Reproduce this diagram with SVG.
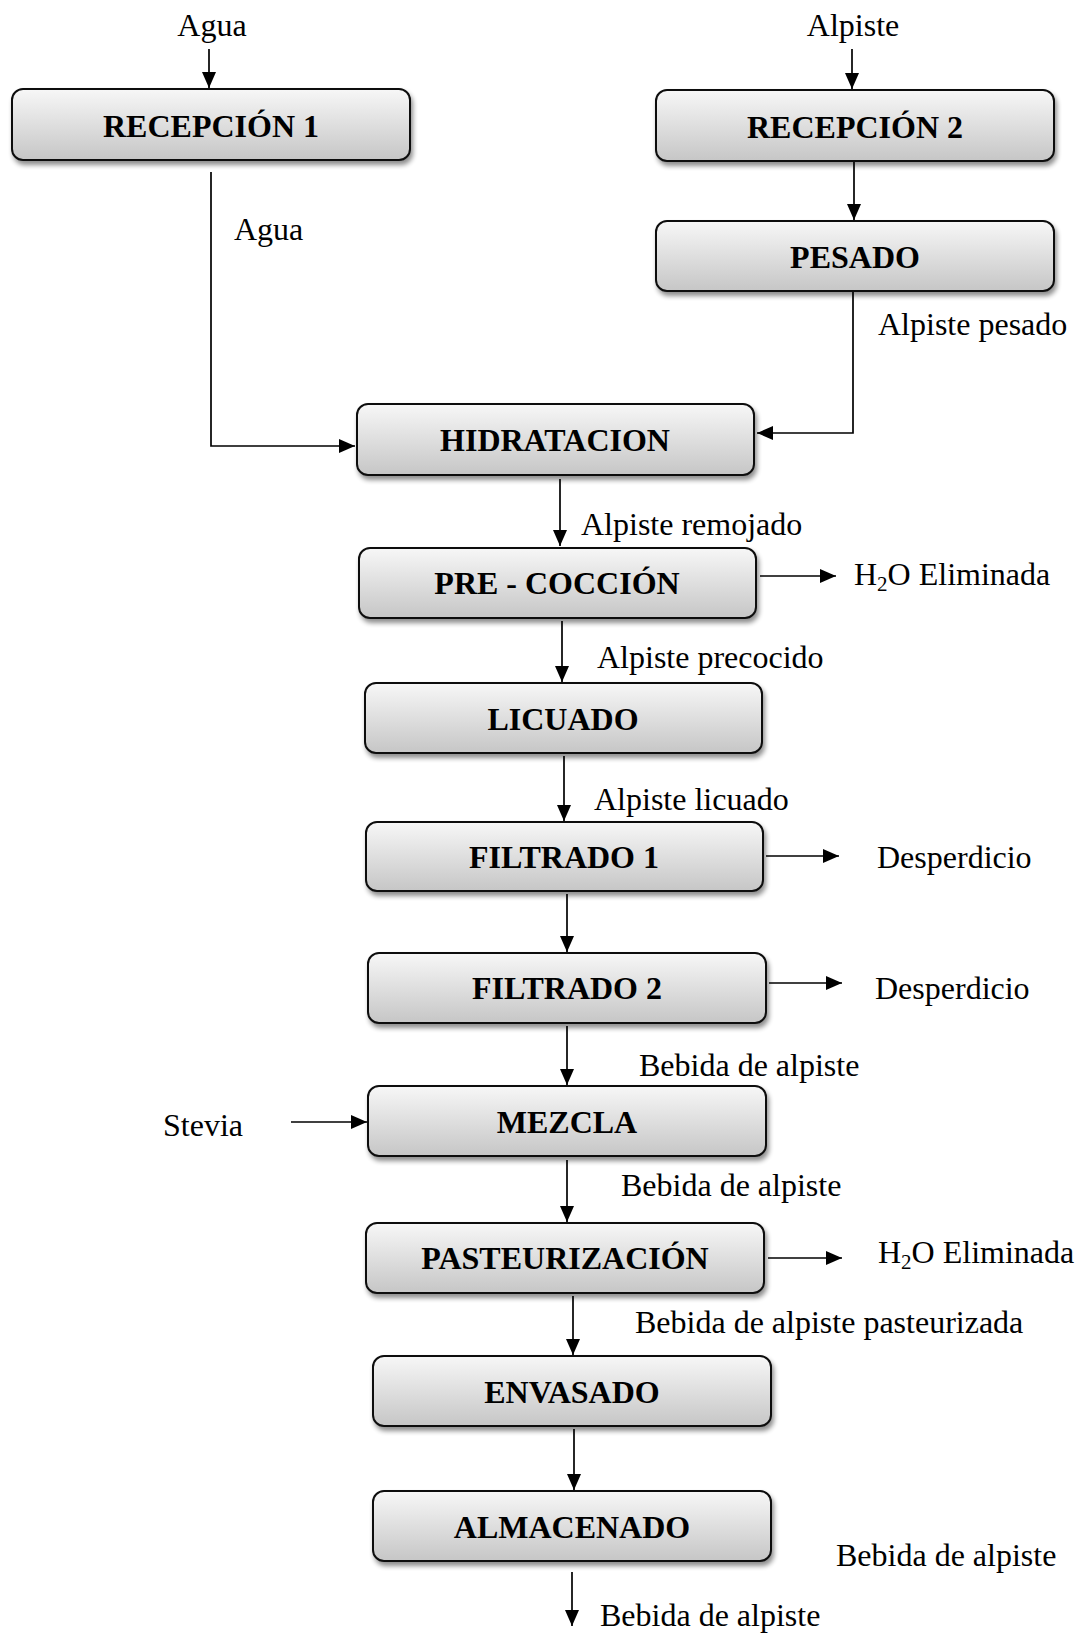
<svg xmlns="http://www.w3.org/2000/svg" width="1079" height="1633" viewBox="0 0 1079 1633">
<style>
.box{fill:url(#g);stroke:#111;stroke-width:2;filter:url(#sh)}
.bt{font-family:"Liberation Serif","Times New Roman",serif;font-weight:bold;font-size:32px;text-anchor:middle;fill:#000}
.lb{font-family:"Liberation Serif","Times New Roman",serif;font-size:32px;fill:#000}
.sub{font-size:21px}
.c{fill:none;stroke:#000;stroke-width:1.7;marker-end:url(#ar)}
</style>
<defs>
<linearGradient id="g" x1="0" y1="0" x2="0" y2="1">
<stop offset="0" stop-color="#f7f7f7"/>
<stop offset="1" stop-color="#c6c6c6"/>
</linearGradient>
<filter id="sh" x="-5%" y="-20%" width="115%" height="150%">
<feGaussianBlur in="SourceAlpha" stdDeviation="2.5"/>
<feOffset dx="2" dy="4" result="b"/>
<feComponentTransfer><feFuncA type="linear" slope="0.45"/></feComponentTransfer>
<feMerge><feMergeNode/><feMergeNode in="SourceGraphic"/></feMerge>
</filter>
<marker id="ar" markerUnits="userSpaceOnUse" markerWidth="16" markerHeight="14" refX="16" refY="7" orient="auto">
<path d="M0,0 L16,7 L0,14 z" fill="#000"/>
</marker>
</defs>

<g id="connectors">
<line class="c" x1="209" y1="49" x2="209" y2="88"/>
<line class="c" x1="852" y1="49" x2="852" y2="89"/>
<line class="c" x1="854" y1="161" x2="854" y2="220"/>
<polyline class="c" points="211,172 211,446 355,446"/>
<polyline class="c" points="853,292 853,433 757,433"/>
<line class="c" x1="560" y1="479" x2="560" y2="546"/>
<line class="c" x1="760" y1="576" x2="836" y2="576"/>
<line class="c" x1="562" y1="621" x2="562" y2="682"/>
<line class="c" x1="564" y1="756" x2="564" y2="821"/>
<line class="c" x1="766" y1="856" x2="839" y2="856"/>
<line class="c" x1="567" y1="894" x2="567" y2="952"/>
<line class="c" x1="769" y1="983" x2="842" y2="983"/>
<line class="c" x1="567" y1="1026" x2="567" y2="1085"/>
<line class="c" x1="291" y1="1122" x2="367" y2="1122"/>
<line class="c" x1="567" y1="1160" x2="567" y2="1222"/>
<line class="c" x1="768" y1="1258" x2="842" y2="1258"/>
<line class="c" x1="573" y1="1296" x2="573" y2="1355"/>
<line class="c" x1="574" y1="1429" x2="574" y2="1490"/>
<line class="c" x1="572" y1="1572" x2="572" y2="1626"/>
</g>

<g id="recepcion1"><rect class="box" x="12" y="89" width="398" height="71" rx="11"/><text class="bt" x="211" y="137">RECEPCIÓN 1</text></g>
<g id="recepcion2"><rect class="box" x="656" y="90" width="398" height="71" rx="11"/><text class="bt" x="855" y="138">RECEPCIÓN 2</text></g>
<g id="pesado"><rect class="box" x="656" y="221" width="398" height="70" rx="11"/><text class="bt" x="855" y="268">PESADO</text></g>
<g id="hidratacion"><rect class="box" x="357" y="404" width="397" height="71" rx="11"/><text class="bt" x="555" y="451">HIDRATACION</text></g>
<g id="precoccion"><rect class="box" x="359" y="548" width="397" height="70" rx="11"/><text class="bt" x="557" y="594">PRE - COCCIÓN</text></g>
<g id="licuado"><rect class="box" x="365" y="683" width="397" height="70" rx="11"/><text class="bt" x="563" y="730">LICUADO</text></g>
<g id="filtrado1"><rect class="box" x="366" y="822" width="397" height="69" rx="11"/><text class="bt" x="564" y="868">FILTRADO 1</text></g>
<g id="filtrado2"><rect class="box" x="368" y="953" width="398" height="70" rx="11"/><text class="bt" x="567" y="999">FILTRADO 2</text></g>
<g id="mezcla"><rect class="box" x="368" y="1086" width="398" height="70" rx="11"/><text class="bt" x="567" y="1133">MEZCLA</text></g>
<g id="pasteurizacion"><rect class="box" x="366" y="1223" width="398" height="70" rx="11"/><text class="bt" x="565" y="1269">PASTEURIZACIÓN</text></g>
<g id="envasado"><rect class="box" x="373" y="1356" width="398" height="70" rx="11"/><text class="bt" x="572" y="1403">ENVASADO</text></g>
<g id="almacenado"><rect class="box" x="373" y="1491" width="398" height="70" rx="11"/><text class="bt" x="572" y="1538">ALMACENADO</text></g>

<g id="labels">
<text class="lb" x="212" y="36" text-anchor="middle">Agua</text>
<text class="lb" x="853" y="36" text-anchor="middle">Alpiste</text>
<text class="lb" x="234" y="240">Agua</text>
<text class="lb" x="878" y="335">Alpiste pesado</text>
<text class="lb" x="581" y="535">Alpiste remojado</text>
<text class="lb" x="854" y="585">H<tspan class="sub" dy="6">2</tspan><tspan dy="-6">O Eliminada</tspan></text>
<text class="lb" x="597" y="668">Alpiste precocido</text>
<text class="lb" x="594" y="810">Alpiste licuado</text>
<text class="lb" x="877" y="868">Desperdicio</text>
<text class="lb" x="875" y="999">Desperdicio</text>
<text class="lb" x="639" y="1076">Bebida de alpiste</text>
<text class="lb" x="163" y="1136">Stevia</text>
<text class="lb" x="621" y="1196">Bebida de alpiste</text>
<text class="lb" x="878" y="1263">H<tspan class="sub" dy="6">2</tspan><tspan dy="-6">O Eliminada</tspan></text>
<text class="lb" x="635" y="1333">Bebida de alpiste pasteurizada</text>
<text class="lb" x="836" y="1566">Bebida de alpiste</text>
<text class="lb" x="600" y="1626">Bebida de alpiste</text>
</g>
</svg>
